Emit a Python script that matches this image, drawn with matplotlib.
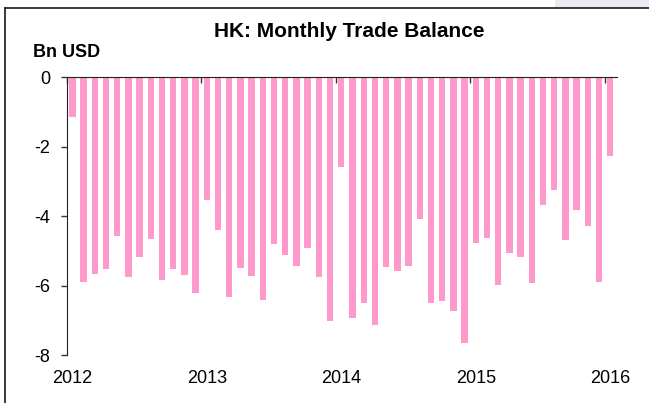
import numpy as np
import matplotlib
matplotlib.use('Agg')
import matplotlib.pyplot as plt
from matplotlib.lines import Line2D
from matplotlib.patches import Rectangle

plt.rcParams['font.family'] = ['Liberation Sans', 'DejaVu Sans']

# Monthly trade balance, Jan 2012 .. Jan 2016 (Bn USD)
balance = [-1.13, -5.91, -5.66, -5.52, -4.58, -5.76, -5.18, -4.65, -5.83, -5.51, -5.69, -6.20,
           -3.54, -4.39, -6.34, -5.50, -5.72, -6.41, -4.79, -5.11, -5.43, -4.92, -5.76, -7.01,
           -2.57, -6.93, -6.49, -7.13, -5.47, -5.57, -5.45, -4.07, -6.51, -6.44, -6.72, -7.65,
           -4.78, -4.64, -5.97, -5.06, -5.18, -5.92, -3.67, -3.24, -4.70, -3.83, -4.27, -5.90,
           -2.26]
year_labels = ['2012', '2013', '2014', '2015', '2016']
y_ticks = [0, -2, -4, -6, -8]

months = np.arange(len(balance)) + 0.5
year_starts = np.arange(len(year_labels)) * 12

fig = plt.figure(figsize=(6.49, 4.03), dpi=100)
ax = fig.add_axes([0.1028, 0.1191, 0.8479, 0.6891])

ax.bar(months, balance, width=0.57, color='#ff99cc', zorder=2)

ax.set_xlim(0, 49.1)
ax.set_ylim(-8, 0)

# year ticks hang down from the zero line; labels sit under the January bars
ax.set_xticks(year_starts)
ax.set_xticklabels([''] * len(year_starts))
ax.tick_params(axis='x', which='major', top=True, bottom=False, direction='in', length=4.5,
               width=1, color='#333333', labeltop=False, labelbottom=False)
ax.set_xticks(year_starts + 0.5, minor=True)
ax.set_xticklabels(year_labels, minor=True)
ax.tick_params(axis='x', which='minor', top=False, bottom=False, direction='in', length=0,
               labelbottom=True, pad=11, labelsize=13)

ax.set_yticks(y_ticks)
ax.set_yticklabels([str(v) for v in y_ticks])
ax.tick_params(axis='y', direction='out', length=4, width=1, color='#333333',
               pad=8, labelsize=13)

for side in ['right', 'bottom']:
    ax.spines[side].set_visible(False)
ax.spines['top'].set_color('#222222')
ax.spines['left'].set_color('#222222')
ax.spines['top'].set_zorder(3)

fig.text(0.538, 0.9206, 'HK: Monthly Trade Balance', ha='center', va='center',
         fontsize=15, fontweight='bold')
fig.text(0.051, 0.870, 'Bn USD', ha='left', va='center', fontsize=13, fontweight='bold')

# frame around the chart, cut off at right and bottom
fig.add_artist(Rectangle((0.855, 1 - 8 / 403), 0.145, 8 / 403, transform=fig.transFigure,
                         facecolor='#e8ebf3', edgecolor='none'))
fig.add_artist(Line2D([5 / 649, 1], [1 - 8 / 403, 1 - 8 / 403], color='#2a2a2a', lw=1.3))
fig.add_artist(Line2D([5 / 649, 5 / 649], [0, 1 - 8 / 403], color='#2a2a2a', lw=1.3))

plt.savefig('out.png', dpi=100)
